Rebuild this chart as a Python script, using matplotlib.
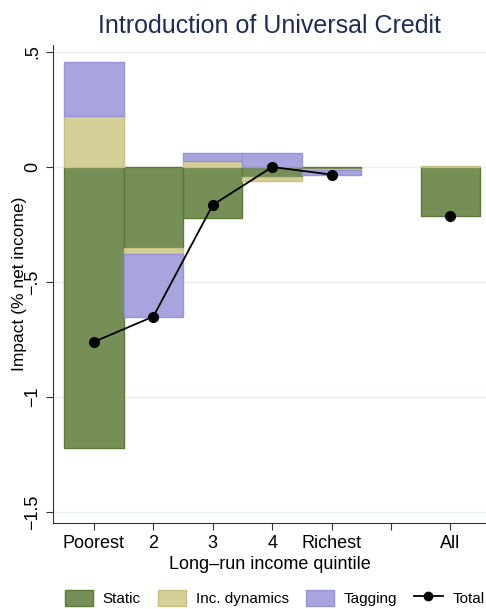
import matplotlib.pyplot as plt
import numpy as np
from matplotlib.patches import Patch
from matplotlib.lines import Line2D

plt.rcParams['font.family'] = ['Liberation Sans', 'DejaVu Sans']

# positions 1..5 quintiles, 7 = All
positions = [1, 2, 3, 4, 5, 7]
tick_pos = [1, 2, 3, 4, 5, 6, 7]
tick_labels = ["Poorest", "2", "3", "4", "Richest", "", "All"]

static = [-1.22, -0.35, -0.22, -0.045, -0.01, -0.215]
inc_dyn = [0.22, -0.03, 0.025, -0.015, -0.005, 0.004]
tagging = [0.235, -0.27, 0.035, 0.06, -0.018, 0.0]
total = [-0.76, -0.65, -0.165, 0.0, -0.033, -0.215]

c_static, e_static = "#768f56", "#5b7a38"
c_inc, e_inc = "#d5cf98", "#c9c183"
c_tag, e_tag = "#a8a4dd", "#9893d6"

fig = plt.figure(figsize=(4.86, 6.09), dpi=100)
ax = fig.add_axes([0.109, 0.141, 0.891, 0.785])

static = np.array(static)
inc_dyn = np.array(inc_dyn)
tagging = np.array(tagging)
pos_arr = np.array(positions)

# stack positives and negatives separately
pos_base = np.zeros(len(positions))
neg_base = np.zeros(len(positions))
for vals, fc, ec in [(static, c_static, e_static), (inc_dyn, c_inc, e_inc), (tagging, c_tag, e_tag)]:
    bottoms = np.where(vals >= 0, pos_base, neg_base)
    keep = vals != 0
    ax.bar(pos_arr[keep], vals[keep], bottom=bottoms[keep], width=1.0, color=fc,
           edgecolor=ec, linewidth=1.0, zorder=2)
    pos_base = pos_base + np.where(vals >= 0, vals, 0)
    neg_base = neg_base + np.where(vals < 0, vals, 0)

ax.plot(positions[:5], total[:5], color="black", lw=1.3, zorder=3)
ax.plot(positions, total, "o", color="black", ms=7, ls="none", zorder=4)

ax.set_xlim(0.31, 7.6)
ax.set_ylim(-1.548, 0.53)
ax.set_yticks([0.5, 0, -0.5, -1, -1.5])
ax.set_yticklabels([".5", "0", "\u2212.5", "\u22121", "\u22121.5"], rotation=90, va="center")
ax.set_xticks(tick_pos)
ax.set_xticklabels(tick_labels)
ax.tick_params(axis="both", labelsize=13, length=5, color="#333333", direction="out")
ax.grid(axis="y", color="#e8eff2", lw=1, zorder=0)

for s in ["top", "right"]:
    ax.spines[s].set_visible(False)
for s in ["left", "bottom"]:
    ax.spines[s].set_color("#333333")

ax.set_xlabel("Long\u2013run income quintile", fontsize=13, labelpad=3)
ax.set_ylabel("Impact (% net income)", fontsize=12.5, labelpad=-2)
ax.set_title("Introduction of Universal Credit", fontsize=18, color="#1c2d57", pad=9)

handles = [Patch(facecolor=c_static, edgecolor=e_static),
           Patch(facecolor=c_inc, edgecolor=e_inc),
           Patch(facecolor=c_tag, edgecolor=e_tag),
           Line2D([0], [0], color="black", marker="o", ms=6, lw=1.3)]
fig.legend(handles, ["Static", "Inc. dynamics", "Tagging", "Total"], loc="lower center",
           ncol=4, frameon=False, fontsize=11, bbox_to_anchor=(0.565, -0.018),
           handlelength=1.85, handleheight=1.3, columnspacing=1.1, handletextpad=0.65)

fig.savefig("out.png", dpi=100, facecolor="white")
